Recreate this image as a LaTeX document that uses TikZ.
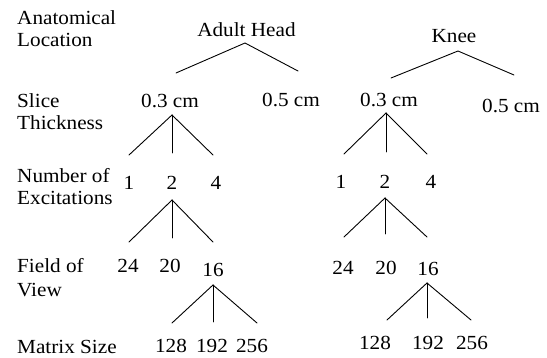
\documentclass[tikz,border=0pt]{standalone}
\usepackage{fontspec}
\setmainfont{Liberation Serif}[FakeStretch=1.06]
\usetikzlibrary{calc}

\begin{document}
\begin{tikzpicture}[x=1pt,y=-1pt,
  txt/.style={inner sep=0pt,anchor=base,font=\fontsize{20}{24}\selectfont},
  lab/.style={txt,anchor=base west},
  edge/.style={line width=0.9pt,line cap=round}]
\useasboundingbox (0,0) rectangle (547,358);

% row captions
\node[lab] (la1) at (17,25)  {Anatomical};
\node[lab] (la2) at (17,47)  {Location};
\node[lab] (ls1) at (17,108) {Slice};
\node[lab] (ls2) at (17,130) {Thickness};
\node[lab] (ln1) at (17,183) {Number of};
\node[lab] (ln2) at (17,205) {Excitations};
\node[lab] (lf1) at (17,273) {Field of};
\node[lab] (lf2) at (17,297) {View};
\node[lab] (lm)  at (17,354) {Matrix Size};

% adult head branch
\node[txt] (hd)   at (246.5,37) {Adult Head};
\node[txt] (h3)   at (170,108) {0.3 cm};
\node[txt] (h5)   at (291,107) {0.5 cm};
\node[txt] (h1)   at (129,190) {1};
\node[txt] (h2)   at (172,190) {2};
\node[txt] (h4)   at (216,190) {4};
\node[txt] (h24)  at (128,273) {24};
\node[txt] (h20)  at (170,273) {20};
\node[txt] (h16)  at (213,277) {16};
\node[txt] (h128) at (171,353) {128};
\node[txt] (h192) at (212,353) {192};
\node[txt] (h256) at (252,353) {256};

% knee branch
\node[txt] (kn)   at (454,43)  {Knee};
\node[txt] (k3)   at (389,107) {0.3 cm};
\node[txt] (k5)   at (511,113) {0.5 cm};
\node[txt] (k1)   at (341,189) {1};
\node[txt] (k2)   at (385,189) {2};
\node[txt] (k4)   at (431,189) {4};
\node[txt] (k24)  at (343,275) {24};
\node[txt] (k20)  at (386,275) {20};
\node[txt] (k16)  at (428,276) {16};
\node[txt] (k128) at (375,350) {128};
\node[txt] (k192) at (428,350) {192};
\node[txt] (k256) at (472,350) {256};

% adult head fans
\draw[edge] ([shift={(7,-36)}]h5.base) -- ([shift={(-1.5,6)}]hd.base) -- ([shift={(6,-35)}]h3.base);
\draw[edge] ([shift={(2,7)}]h3.base) -- ([shift={(0,-35)}]h1.base);
\draw[edge] ([shift={(2,7)}]h3.base) -- ([shift={(0,-37)}]h2.base);
\draw[edge] ([shift={(2,7)}]h3.base) -- ([shift={(-3,-35)}]h4.base);
\draw[edge] ([shift={(0,10)}]h2.base) -- ([shift={(1,-31)}]h24.base);
\draw[edge] ([shift={(0,10)}]h2.base) -- ([shift={(2,-35)}]h20.base);
\draw[edge] ([shift={(0,10)}]h2.base) -- ([shift={(0,-35)}]h16.base);
\draw[edge] ([shift={(0,8)}]h16.base) -- ([shift={(1,-30)}]h128.base);
\draw[edge] ([shift={(0,8)}]h16.base) -- ([shift={(1,-31)}]h192.base);
\draw[edge] ([shift={(0,8)}]h16.base) -- ([shift={(5,-30)}]h256.base);

% knee fans
\draw[edge] ([shift={(3,-38)}]k5.base) -- ([shift={(4,8)}]kn.base) -- ([shift={(2,-29)}]k3.base);
\draw[edge] ([shift={(-3,6)}]k3.base) -- ([shift={(3,-35)}]k1.base);
\draw[edge] ([shift={(-3,6)}]k3.base) -- ([shift={(1,-37)}]k2.base);
\draw[edge] ([shift={(-3,6)}]k3.base) -- ([shift={(-4,-35)}]k4.base);
\draw[edge] ([shift={(0,9)}]k2.base) -- ([shift={(1,-38)}]k24.base);
\draw[edge] ([shift={(0,9)}]k2.base) -- ([shift={(-1,-41)}]k20.base);
\draw[edge] ([shift={(0,9)}]k2.base) -- ([shift={(-1,-39)}]k16.base);
\draw[edge] ([shift={(-1,7)}]k16.base) -- ([shift={(12,-30)}]k128.base);
\draw[edge] ([shift={(-1,7)}]k16.base) -- ([shift={(-1,-32)}]k192.base);
\draw[edge] ([shift={(-1,7)}]k16.base) -- ([shift={(-1,-30)}]k256.base);
\end{tikzpicture}
\end{document}
